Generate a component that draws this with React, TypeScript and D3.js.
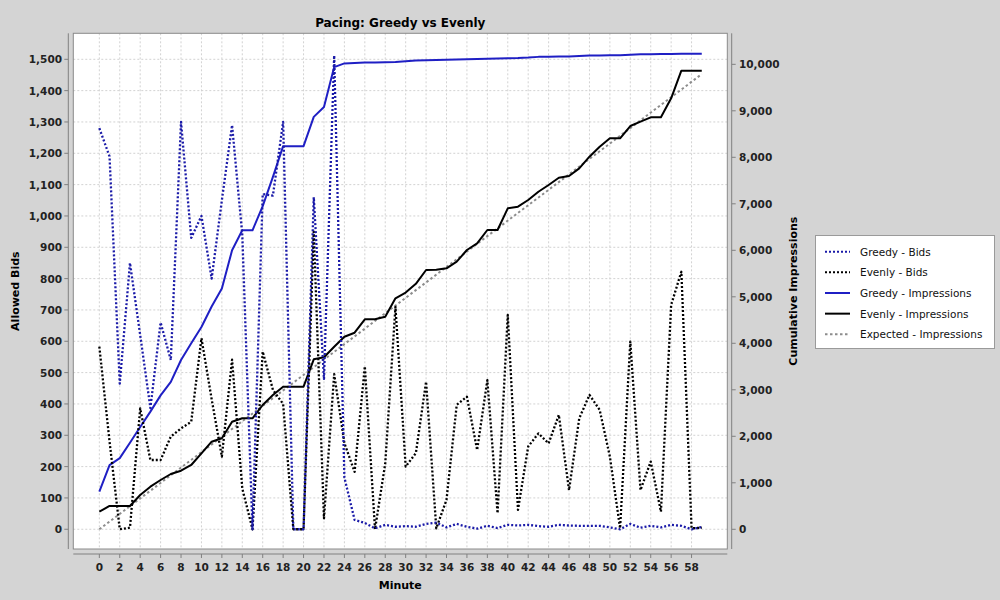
import React, { useRef, useEffect } from 'react';
import * as d3 from 'd3';

// per-minute values (minute = array index)
const greedyBids = [
  1280, 1190, 465, 850, 620, 387, 660, 540, 1300, 930,
  1000, 800, 1050, 1290, 940, 0, 1070, 1065, 1300, 0,
  0, 1060, 480, 1512, 165, 30, 20, 3, 14, 8,
  10, 8, 17, 21, 6, 17, 8, 2, 11, 4,
  14, 12, 14, 10, 8, 14, 12, 11, 11, 11,
  6, 0, 17, 5, 11, 6, 14, 11, 0, 7,
];

const evenlyBids = [
  583, 280, 0, 5, 386, 221, 221, 296, 322, 343,
  610, 415, 232, 541, 130, 0, 567, 445, 400, 0,
  0, 950, 35, 495, 275, 183, 520, 0, 210, 710,
  200, 243, 471, 3, 94, 397, 423, 253, 476, 51,
  684, 62, 264, 306, 274, 365, 125, 354, 429, 381,
  232, 3, 599, 125, 216, 56, 716, 822, 3, 5,
];

const greedyImpressions = [
  810, 1380, 1530, 1860, 2200, 2530, 2880, 3170, 3640, 4000,
  4350, 4790, 5180, 6000, 6430, 6430, 6950, 7580, 8240, 8240,
  8240, 8870, 9080, 9940, 10020, 10030, 10040, 10040, 10045, 10050,
  10065, 10080, 10090, 10095, 10100, 10105, 10110, 10115, 10120, 10125,
  10130, 10135, 10145, 10160, 10162, 10170, 10170, 10180, 10190, 10192,
  10195, 10195, 10205, 10215, 10218, 10220, 10222, 10225, 10225, 10225,
];

const evenlyImpressions = [
  378, 501, 501, 501, 738, 916, 1060, 1189, 1260, 1383,
  1634, 1884, 1957, 2314, 2387, 2387, 2673, 2888, 3067, 3067,
  3067, 3656, 3699, 3927, 4142, 4228, 4516, 4516, 4572, 4968,
  5090, 5280, 5576, 5580, 5613, 5755, 6006, 6150, 6437, 6437,
  6903, 6938, 7082, 7260, 7404, 7561, 7598, 7763, 8013, 8228,
  8409, 8409, 8673, 8766, 8860, 8860, 9269, 9863, 9863, 9863,
];

// expected pacing is a straight ramp: start and end points only
const expectedMinutes = [0, 59];
const expectedImpressions = [0, 9790];

const xTicks = [0, 2, 4, 6, 8, 10, 12, 14, 16, 18, 20, 22, 24, 26, 28, 30, 32, 34, 36, 38, 40, 42, 44, 46, 48, 50, 52, 54, 56, 58];
const leftTicks = [0, 100, 200, 300, 400, 500, 600, 700, 800, 900, 1000, 1100, 1200, 1300, 1400, 1500];
const rightTicks = [0, 1000, 2000, 3000, 4000, 5000, 6000, 7000, 8000, 9000, 10000];

const BLUE = '#1f1fc4';
const DOT_BLUE = '#1a1aa8';
const FONT = '"DejaVu Sans", sans-serif';

const legendItems = [
  { label: 'Greedy - Bids', color: DOT_BLUE, dash: '2,2' },
  { label: 'Evenly - Bids', color: '#000', dash: '2,2' },
  { label: 'Greedy - Impressions', color: BLUE, dash: null },
  { label: 'Evenly - Impressions', color: '#000', dash: null },
  { label: 'Expected - Impressions', color: '#8c8c8c', dash: '2.5,2.5' },
];

const App: React.FC = () => {
  const svgRef = useRef<SVGSVGElement>(null);

  useEffect(() => {
    if (!svgRef.current) return;
    const svg = d3.select(svgRef.current);
    svg.selectAll('*').remove();

    const left = 73.3, right = 727.3, top = 33.3, bottom = 549;

    const x = d3.scaleLinear().domain([-2.55, 61.5]).range([left, right]);
    const yL = d3.scaleLinear().domain([-63, 1583]).range([bottom, top]);
    const yR = d3.scaleLinear().domain([-424, 10667]).range([bottom, top]);
    const fmt = d3.format(',');

    svg.append('rect').attr('width', 1000).attr('height', 600).attr('fill', '#d4d4d4');

    // title
    svg.append('text')
      .attr('x', (left + right) / 2).attr('y', 27)
      .attr('text-anchor', 'middle')
      .style('font', `bold 12px ${FONT}`)
      .text('Pacing: Greedy vs Evenly');

    // plot background
    svg.append('rect')
      .attr('x', left).attr('y', top)
      .attr('width', right - left).attr('height', bottom - top)
      .attr('fill', '#fff');

    // grid
    const grid = svg.append('g')
      .attr('stroke', '#d2d2d2').attr('stroke-width', 1).attr('stroke-dasharray', '2,2');
    xTicks.forEach(t => {
      grid.append('line')
        .attr('x1', x(t)).attr('x2', x(t)).attr('y1', top).attr('y2', bottom);
    });
    leftTicks.forEach(t => {
      grid.append('line')
        .attr('x1', left).attr('x2', right).attr('y1', yL(t)).attr('y2', yL(t));
    });

    // series
    const lineL = d3.line<number>().x((d, i) => x(i)).y(d => yL(d));
    const lineR = d3.line<number>().x((d, i) => x(i)).y(d => yR(d));
    const lineExp = d3.line<number>().x((d, i) => x(expectedMinutes[i])).y(d => yR(d));

    const series = svg.append('g').attr('fill', 'none')
      .attr('stroke-width', 2).attr('stroke-linejoin', 'round');

    series.append('path').attr('d', lineExp(expectedImpressions))
      .attr('stroke', '#8c8c8c').attr('stroke-dasharray', '2.5,2.5');
    series.append('path').attr('d', lineR(evenlyImpressions)).attr('stroke', '#000');
    series.append('path').attr('d', lineR(greedyImpressions)).attr('stroke', BLUE);
    series.append('path').attr('d', lineL(evenlyBids))
      .attr('stroke', '#000').attr('stroke-width', 2.3).attr('stroke-dasharray', '2,2');
    series.append('path').attr('d', lineL(greedyBids))
      .attr('stroke', DOT_BLUE).attr('stroke-width', 2.3).attr('stroke-dasharray', '2,2');

    // plot border
    svg.append('rect')
      .attr('x', left).attr('y', top)
      .attr('width', right - left).attr('height', bottom - top)
      .attr('fill', 'none').attr('stroke', '#8a8a8a');

    const axisColor = '#808080';
    const tickFont = `bold 10.5px ${FONT}`;

    // bottom axis
    const xa = svg.append('g');
    xa.append('line').attr('x1', left).attr('x2', right).attr('y1', 554).attr('y2', 554)
      .attr('stroke', axisColor);
    xTicks.forEach(t => {
      xa.append('line').attr('x1', x(t)).attr('x2', x(t)).attr('y1', 554).attr('y2', 558)
        .attr('stroke', axisColor);
      xa.append('text').attr('x', x(t)).attr('y', 571).attr('text-anchor', 'middle')
        .style('font', tickFont).attr('fill', '#222').text(t);
    });
    xa.append('text').attr('x', (left + right) / 2).attr('y', 589).attr('text-anchor', 'middle')
      .style('font', `bold 11px ${FONT}`).text('Minute');

    // left axis
    const la = svg.append('g');
    la.append('line').attr('x1', 68.3).attr('x2', 68.3).attr('y1', top).attr('y2', bottom)
      .attr('stroke', axisColor);
    leftTicks.forEach(t => {
      la.append('line').attr('x1', 64.3).attr('x2', 68.3).attr('y1', yL(t)).attr('y2', yL(t))
        .attr('stroke', axisColor);
      la.append('text').attr('x', 62).attr('y', yL(t) + 4).attr('text-anchor', 'end')
        .style('font', tickFont).attr('fill', '#222').text(fmt(t));
    });
    la.append('text')
      .attr('transform', `translate(19,${(top + bottom) / 2}) rotate(-90)`)
      .attr('text-anchor', 'middle')
      .style('font', `bold 11px ${FONT}`).text('Allowed Bids');

    // right axis
    const ra = svg.append('g');
    ra.append('line').attr('x1', 731.7).attr('x2', 731.7).attr('y1', top).attr('y2', bottom)
      .attr('stroke', axisColor);
    rightTicks.forEach(t => {
      ra.append('line').attr('x1', 731.7).attr('x2', 735.7).attr('y1', yR(t)).attr('y2', yR(t))
        .attr('stroke', axisColor);
      ra.append('text').attr('x', 739).attr('y', yR(t) + 4).attr('text-anchor', 'start')
        .style('font', tickFont).attr('fill', '#222').text(fmt(t));
    });
    ra.append('text')
      .attr('transform', `translate(797,${(top + bottom) / 2}) rotate(-90)`)
      .attr('text-anchor', 'middle')
      .style('font', `bold 11px ${FONT}`).text('Cumulative Impressions');

    // legend
    const lg = svg.append('g');
    lg.append('rect').attr('x', 815.5).attr('y', 235.5).attr('width', 179).attr('height', 113)
      .attr('fill', '#fff').attr('stroke', '#9a9a9a');
    legendItems.forEach((item, i) => {
      const cy = 251.7 + i * 20.65;
      const ln = lg.append('line').attr('x1', 825).attr('x2', 850).attr('y1', cy).attr('y2', cy)
        .attr('stroke', item.color).attr('stroke-width', 2);
      if (item.dash) ln.attr('stroke-dasharray', item.dash);
      lg.append('text').attr('x', 860).attr('y', cy + 4)
        .style('font', `10.5px ${FONT}`).attr('fill', '#111').text(item.label);
    });
  }, []);

  return (
    <svg ref={svgRef} width={1000} height={600}
      style={{ position: 'absolute', left: 0, top: 0, display: 'block' }} />
  );
};

export default App;
